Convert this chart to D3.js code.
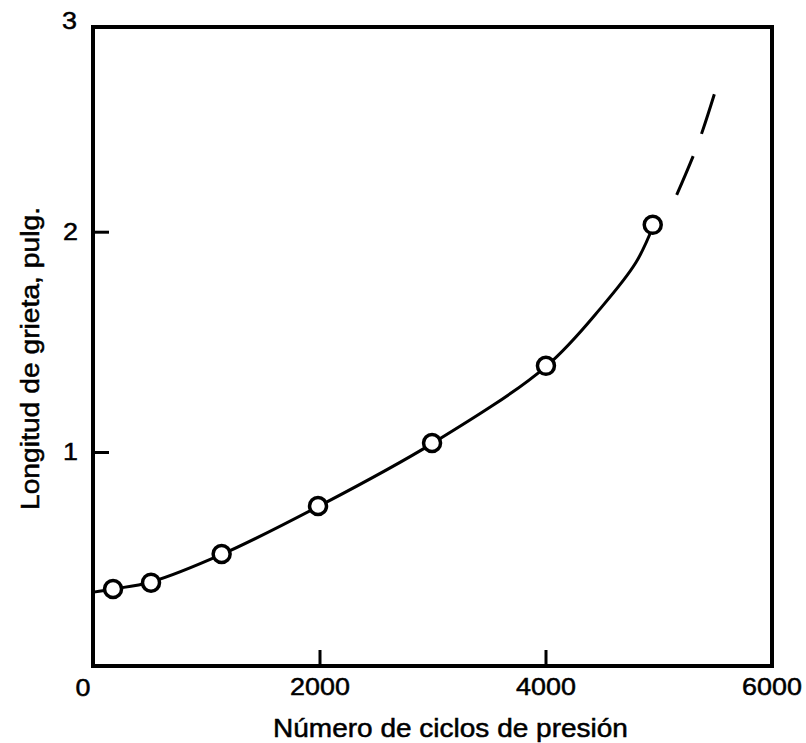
<!DOCTYPE html>
<html>
<head>
<meta charset="utf-8">
<script src="https://cdn.jsdelivr.net/npm/d3@7"></script>
<style>
  html, body { margin: 0; padding: 0; background: #fff; }
  svg { display: block; }
  text { font-family: "Liberation Sans", Arial, Helvetica, sans-serif; fill: #000; stroke: #000; stroke-width: 0.5px; }
</style>
</head>
<body>
<svg id="chart" width="806" height="743"></svg>
<script>
// Measured crack length vs. number of pressure cycles
const cycles = [173, 509, 1134, 1987, 2996, 4004, 4949];
const crackLength = [0.378, 0.407, 0.537, 0.755, 1.041, 1.391, 2.031];

// Fitted trend line (solid part)
const fitCycles = [0, 173, 509, 1134, 1987, 2996, 4004, 4500, 4800, 4949];
const fitLength = [0.364, 0.378, 0.41, 0.535, 0.752, 1.038, 1.388, 1.66, 1.86, 2.02];

// Extrapolated part of the trend (dashed)
const extCycles = [5161, 5346, 5494];
const extLength = [2.167, 2.394, 2.624];

const xTicks = [2000, 4000, 6000];
const yTicks = [1, 2];
const xCornerLabel = "0";
const yCornerLabel = "3";
const xTitle = "Número de ciclos de presión";
const yTitle = "Longitud de grieta, pulg.";

const svg = d3.select("#chart");
const frame = { left: 93, right: 772, top: 27, bottom: 666 };

const x = d3.scaleLinear().domain([0, 6000]).range([93.5, 771.5]);
const y = d3.scaleLinear().domain([0, 3]).range([672.3, 11.4]);

// Widen text horizontally to the proportions of the printed lettering
function stretch(sel, k) {
  sel.each(function () {
    const w = this.getComputedTextLength();
    d3.select(this).attr("textLength", w * k).attr("lengthAdjust", "spacingAndGlyphs");
  });
}

// Axes with inward ticks
const xAxis = svg.append("g")
  .attr("transform", `translate(0,${frame.bottom})`)
  .call(d3.axisBottom(x).tickValues(xTicks).tickFormat(d3.format("d"))
    .tickSizeInner(-16).tickSizeOuter(0).tickPadding(12));
const yAxis = svg.append("g")
  .attr("transform", `translate(${frame.left},0)`)
  .call(d3.axisLeft(y).tickValues(yTicks).tickFormat(d3.format("d"))
    .tickSizeInner(-16).tickSizeOuter(0).tickPadding(15));

[xAxis, yAxis].forEach(g => {
  g.select(".domain").remove();
  g.selectAll(".tick line").attr("stroke", "#000").attr("stroke-width", 3);
  g.selectAll(".tick text").attr("font-size", 24).attr("fill", "#000").call(stretch, 1.12);
});
xAxis.selectAll(".tick text").attr("dy", "0.72em");

// Corner labels
svg.append("text").attr("x", 83).attr("y", 696).attr("text-anchor", "middle")
  .attr("font-size", 24).text(xCornerLabel).call(stretch, 1.12);
svg.append("text").attr("x", 77).attr("y", 29).attr("text-anchor", "end")
  .attr("font-size", 24).text(yCornerLabel).call(stretch, 1.12);

// Frame
svg.append("rect")
  .attr("x", frame.left).attr("y", frame.top)
  .attr("width", frame.right - frame.left).attr("height", frame.bottom - frame.top)
  .attr("fill", "none").attr("stroke", "#000").attr("stroke-width", 4);

// Trend line
const line = d3.line().x(d => x(d[0])).y(d => y(d[1])).curve(d3.curveCatmullRom.alpha(0.5));
svg.append("path")
  .datum(fitCycles.map((c, i) => [c, fitLength[i]]))
  .attr("d", line)
  .attr("fill", "none").attr("stroke", "#000").attr("stroke-width", 3);

svg.append("path")
  .datum(extCycles.map((c, i) => [c, extLength[i]]))
  .attr("d", line)
  .attr("fill", "none").attr("stroke", "#000").attr("stroke-width", 3)
  .attr("stroke-dasharray", "42 24");

// Measured points
svg.append("g").selectAll("circle")
  .data(cycles.map((c, i) => [c, crackLength[i]]))
  .join("circle")
  .attr("cx", d => x(d[0])).attr("cy", d => y(d[1])).attr("r", 8.5)
  .attr("fill", "#fff").attr("stroke", "#000").attr("stroke-width", 3.5);

// Axis titles
svg.append("text").attr("x", 450.5).attr("y", 737).attr("text-anchor", "middle")
  .attr("font-size", 25).text(xTitle).call(stretch, 1.12);
svg.append("text")
  .attr("transform", "translate(39,358.5) rotate(-90)")
  .attr("text-anchor", "middle")
  .attr("font-size", 25).text(yTitle).call(stretch, 1.13);
</script>
</body>
</html>
